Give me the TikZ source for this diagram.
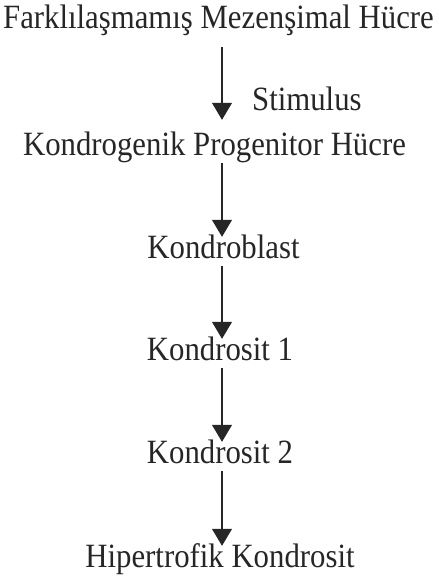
\documentclass[tikz,border=0pt]{standalone}
\usepackage{fontspec}
\setmainfont{Liberation Serif}
\usetikzlibrary{arrows.meta}

\begin{document}
\begin{tikzpicture}[x=1pt, y=-1pt, black!85,
    every node/.style={font=\fontsize{34}{40}\selectfont, xscale=0.905, transform shape,
        inner sep=0pt, text height=24pt, text depth=8pt, anchor=base},
    arr/.style={-{Triangle[width=20pt, length=17pt]}, line width=1.1pt, shorten >=-3pt}]

        \useasboundingbox (0, 0) rectangle (439, 576);
        \coordinate (axis) at (222, 0);

        \node (n1) at (218.5, 28) {Farklılaşmamış Mezenşimal Hücre};
        \node (s1) at (252, 110) [anchor = base west] {Stimulus};
        \node (n2) at (214.5, 155) {Kondrogenik Progenitor Hücre};
        \node (n3) at (223.5, 258) {Kondroblast};
        \node (n4) at (220, 360) {Kondrosit 1};
        \node (n5) at (220, 463) {Kondrosit 2};
        \node (n6) at (220, 567) {Hipertrofik Kondrosit};

        \draw [arr, shorten <=11pt, shorten >=11pt] (n1.south -| axis) -- (n2.north -| axis);
        \draw [arr] (n2.south -| axis) -- (n3.north -| axis);
        \draw [arr] (n3.south -| axis) -- (n4.north -| axis);
        \draw [arr] (n4.south -| axis) -- (n5.north -| axis);
        \draw [arr] (n5.south -| axis) -- (n6.north -| axis);

    \end{tikzpicture}
\end{document}
